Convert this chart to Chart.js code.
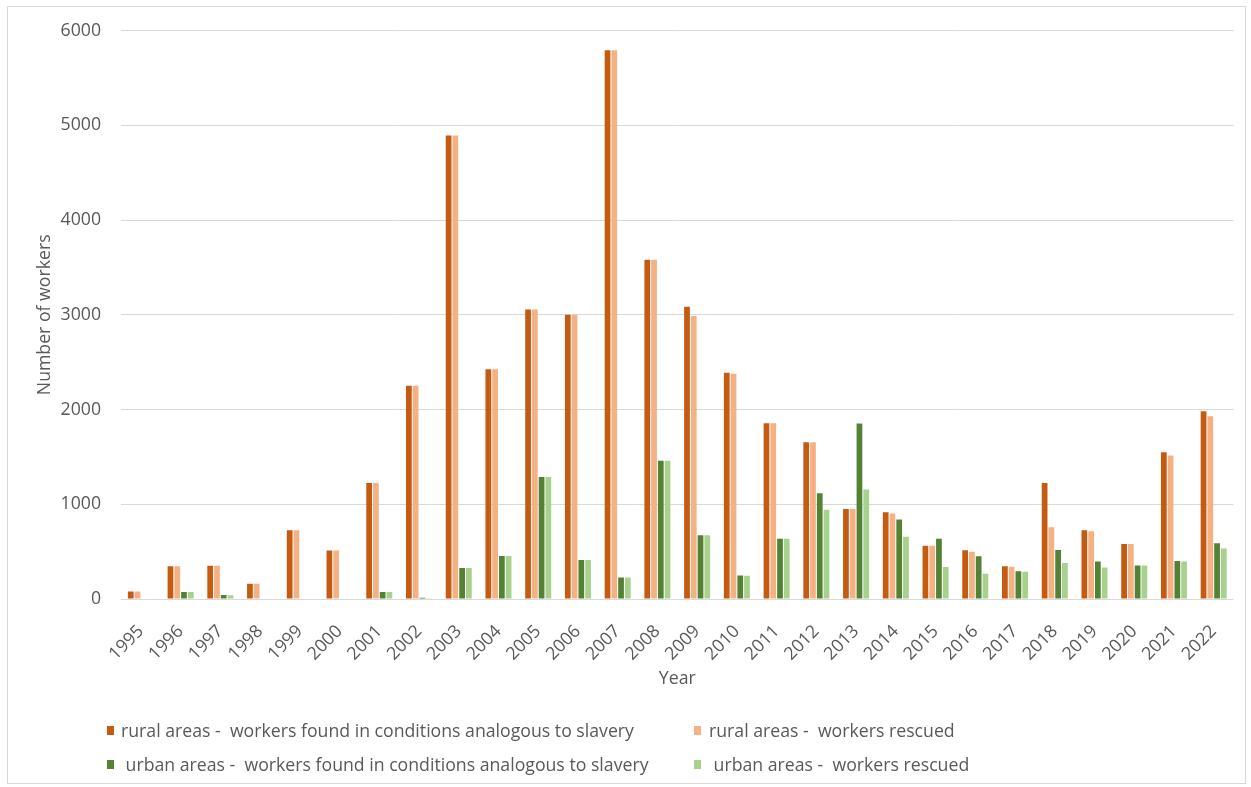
<!DOCTYPE html>
<html>
<head>
<meta charset="utf-8">
<title>Workers found in conditions analogous to slavery and rescued, 1995–2022</title>
<script src="https://cdn.jsdelivr.net/npm/chart.js@4/dist/chart.umd.min.js"></script>
<style>
  html, body { margin: 0; padding: 0; background: #ffffff; }
  #wrap { position: relative; width: 1251px; height: 787px; overflow: hidden; }
  #frame { position: absolute; left: 7px; top: 6px; width: 1239px; height: 778px; border: 1px solid #d9d9d9; box-sizing: border-box; pointer-events: none; }
  #chart { position: absolute; left: 0; top: 0; }
  .leg { position: absolute; font-family: "Open Sans", sans-serif; font-size: 17.7px; color: #595959; white-space: pre; line-height: 20px; }
  .sw { position: absolute; width: 7px; height: 9px; }
</style>
</head>
<body>
<div id="wrap">
  <canvas id="chart" width="1251" height="787"></canvas>
  <div id="frame"></div>
  <div id="legend"></div>
</div>
<script>
// Years on the category axis
const years = ['1995','1996','1997','1998','1999','2000','2001','2002','2003','2004',
               '2005','2006','2007','2008','2009','2010','2011','2012','2013','2014',
               '2015','2016','2017','2018','2019','2020','2021','2022'];

// Rural areas: workers found in conditions analogous to slavery
const ruralFound = [80, 345, 350, 160, 725, 512, 1225, 2252, 4892, 2425,
                    3055, 3000, 5793, 3580, 3085, 2388, 1855, 1655, 950, 917,
                    562, 515, 347, 1225, 725, 580, 1548, 1982];

// Rural areas: workers rescued
const ruralRescued = [80, 345, 350, 160, 725, 512, 1225, 2252, 4892, 2425,
                      3055, 3000, 5793, 3580, 2988, 2378, 1855, 1655, 950, 903,
                      562, 500, 340, 757, 714, 580, 1516, 1929];

// Urban areas: workers found in conditions analogous to slavery
const urbanFound = [null, 74, 42, null, null, null, 74, 12, 326, 455,
                    1288, 413, 228, 1460, 674, 247, 635, 1117, 1852, 840,
                    637, 452, 294, 518, 395, 354, 402, 588];

// Urban areas: workers rescued
const urbanRescued = [null, 74, 40, null, null, null, 74, 8, 326, 455,
                      1288, 413, 228, 1460, 674, 245, 635, 942, 1156, 658,
                      339, 266, 287, 381, 332, 354, 395, 532];

const seriesLabels = [
  'rural areas -  workers found in conditions analogous to slavery',
  'rural areas -  workers rescued',
  ' urban areas -  workers found in conditions analogous to slavery',
  ' urban areas -  workers rescued'
];
const seriesColors = ['#C55A11', '#F4B183', '#548235', '#A9D18E'];
const seriesData = [ruralFound, ruralRescued, urbanFound, urbanRescued];

// Y axis ticks
const yMin = 0, yMax = 6000, yStep = 1000;

const textColor = '#595959';
const gridColor = '#d9d9d9';
const fontSize = 17.7;
Chart.defaults.font.family = '"Open Sans", sans-serif';
Chart.defaults.color = textColor;

new Chart(document.getElementById('chart'), {
  type: 'bar',
  data: {
    labels: years,
    datasets: seriesData.map((d, i) => ({
      label: seriesLabels[i],
      data: d,
      backgroundColor: seriesColors[i],
      borderWidth: 0,
      categoryPercentage: 0.68,
      barPercentage: 0.85
    }))
  },
  options: {
    responsive: false,
    animation: false,
    devicePixelRatio: 1,
    layout: { padding: { left: 0, right: 16, top: 28, bottom: 88 } },
    plugins: {
      legend: { display: false },
      tooltip: { enabled: false }
    },
    scales: {
      x: {
        grid: { display: false, drawTicks: false },
        border: { display: false },
        ticks: {
          font: { size: fontSize },
          color: textColor,
          maxRotation: 45,
          minRotation: 45,
          autoSkip: false,
          padding: 22
        },
        title: {
          display: true,
          text: 'Year',
          font: { size: fontSize },
          color: textColor,
          padding: { top: 0, bottom: 9 }
        },
        afterFit: (s) => { s.height = 100; }
      },
      y: {
        min: yMin,
        max: yMax,
        grid: { color: gridColor, lineWidth: 1, drawTicks: false },
        border: { display: false },
        ticks: {
          stepSize: yStep,
          font: { size: fontSize },
          color: textColor,
          padding: 20,
          callback: (v) => String(v)
        },
        title: {
          display: true,
          text: 'Number of workers',
          font: { size: fontSize },
          color: textColor,
          padding: { top: 34, bottom: 0 }
        },
        afterFit: (s) => { s.width = 121; }
      }
    }
  }
});

// Two-column legend under the plot
const legendPos = [
  { box: [107, 726], text: [121, 720] },
  { box: [694, 726], text: [709, 720] },
  { box: [107, 760], text: [121, 754] },
  { box: [694, 760], text: [709, 754] }
];
const legendEl = document.getElementById('legend');
seriesLabels.forEach((lab, i) => {
  const p = legendPos[i];
  const sq = document.createElement('div');
  sq.className = 'sw';
  sq.style.left = p.box[0] + 'px';
  sq.style.top = p.box[1] + 'px';
  sq.style.background = seriesColors[i];
  legendEl.appendChild(sq);
  const t = document.createElement('div');
  t.className = 'leg';
  t.style.left = p.text[0] + 'px';
  t.style.top = p.text[1] + 'px';
  t.textContent = lab;
  legendEl.appendChild(t);
});
</script>
</body>
</html>
